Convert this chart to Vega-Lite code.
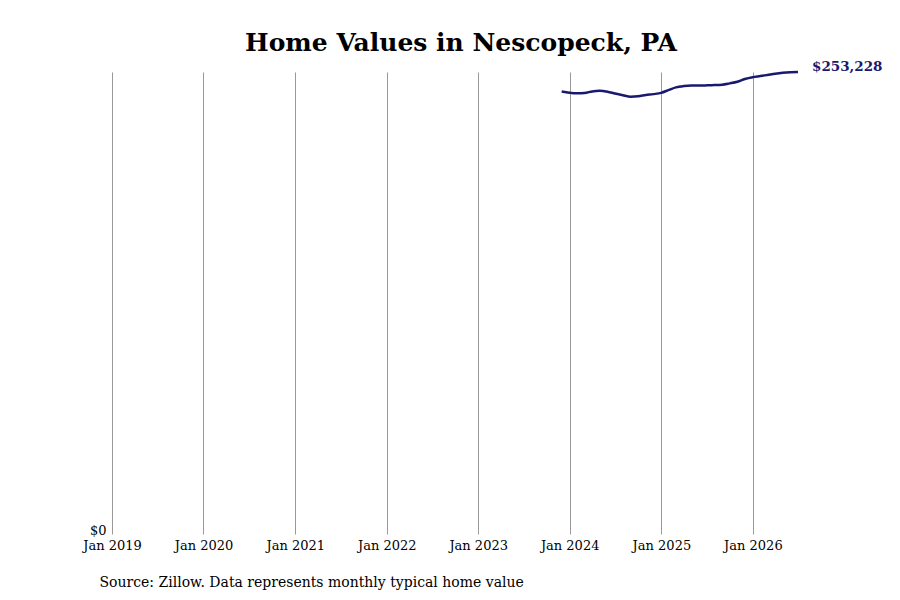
{
  "$schema": "https://vega.github.io/schema/vega-lite/v6.json",
  "autosize": "none",
  "width": 686,
  "height": 462,
  "padding": {"left": 112, "top": 72, "right": 102, "bottom": 66},
  "background": "white",
  "config": {
    "font": "DejaVu Serif",
    "view": {"stroke": null}
  },
  "title": {
    "text": "Home Values in Nescopeck, PA",
    "font": "DejaVu Serif",
    "fontSize": 25,
    "fontWeight": "bold",
    "color": "#000000",
    "anchor": "middle",
    "frame": "group",
    "offset": 4,
    "dx": 6
  },
  "data": {
    "values": [
      {"date": "2023-11-30", "value": 242500},
      {"date": "2023-12-31", "value": 241900},
      {"date": "2024-01-31", "value": 241600},
      {"date": "2024-02-29", "value": 241700},
      {"date": "2024-03-31", "value": 242600},
      {"date": "2024-04-30", "value": 242900},
      {"date": "2024-05-31", "value": 242400},
      {"date": "2024-06-30", "value": 241400},
      {"date": "2024-07-31", "value": 240500},
      {"date": "2024-08-31", "value": 239700},
      {"date": "2024-09-30", "value": 239900},
      {"date": "2024-10-31", "value": 240600},
      {"date": "2024-11-30", "value": 241100},
      {"date": "2024-12-31", "value": 241800},
      {"date": "2025-01-31", "value": 243400},
      {"date": "2025-02-28", "value": 244800},
      {"date": "2025-03-31", "value": 245500},
      {"date": "2025-04-30", "value": 245800},
      {"date": "2025-05-31", "value": 245800},
      {"date": "2025-06-30", "value": 245900},
      {"date": "2025-07-31", "value": 246100},
      {"date": "2025-08-31", "value": 246300},
      {"date": "2025-09-30", "value": 247000},
      {"date": "2025-10-31", "value": 247900},
      {"date": "2025-11-30", "value": 249400},
      {"date": "2025-12-31", "value": 250400},
      {"date": "2026-01-31", "value": 251000},
      {"date": "2026-02-28", "value": 251600},
      {"date": "2026-03-31", "value": 252300},
      {"date": "2026-04-30", "value": 252800},
      {"date": "2026-05-31", "value": 253100},
      {"date": "2026-06-30", "value": 253228, "label": "$253,228"}
    ]
  },
  "encoding": {
    "x": {
      "field": "date",
      "type": "temporal",
      "scale": {"domain": ["2019-01-01", "2026-06-30"]},
      "axis": {
        "values": ["2019-01-01", "2020-01-01", "2021-01-01", "2022-01-01", "2023-01-01", "2024-01-01", "2025-01-01", "2026-01-01"],
        "format": "%b %Y",
        "labelFont": "DejaVu Serif",
        "labelFontSize": 13,
        "labelColor": "#000000",
        "labelPadding": 5,
        "labelFlush": false,
        "labelOverlap": false,
        "ticks": false,
        "domain": false,
        "grid": true,
        "gridColor": "#999999",
        "gridWidth": 1,
        "title": "Source: Zillow. Data represents monthly typical home value",
        "titleFont": "DejaVu Serif",
        "titleFontSize": 14,
        "titleFontWeight": "normal",
        "titleColor": "#000000",
        "titleAnchor": "start",
        "titleAlign": "left",
        "titleBaseline": "alphabetic",
        "titleX": -13,
        "titleY": 52
      }
    },
    "y": {
      "field": "value",
      "type": "quantitative",
      "scale": {"domain": [0, 253228], "nice": false, "zero": true},
      "axis": {
        "values": [0],
        "format": "$,.0f",
        "labelFont": "DejaVu Serif",
        "labelFontSize": 13,
        "labelColor": "#000000",
        "labelPadding": 6,
        "labelBaseline": "alphabetic",
        "ticks": false,
        "domain": false,
        "grid": false,
        "title": null
      }
    }
  },
  "layer": [
    {
      "mark": {"type": "line", "color": "#191970", "strokeWidth": 2.5, "interpolate": "monotone"}
    },
    {
      "transform": [{"filter": "isValid(datum.label)"}],
      "mark": {"type": "text", "align": "left", "baseline": "middle", "dx": 14, "dy": -5, "fontSize": 13.5, "fontWeight": "bold", "color": "#191970", "font": "DejaVu Serif"},
      "encoding": {"text": {"field": "label"}}
    }
  ]
}
